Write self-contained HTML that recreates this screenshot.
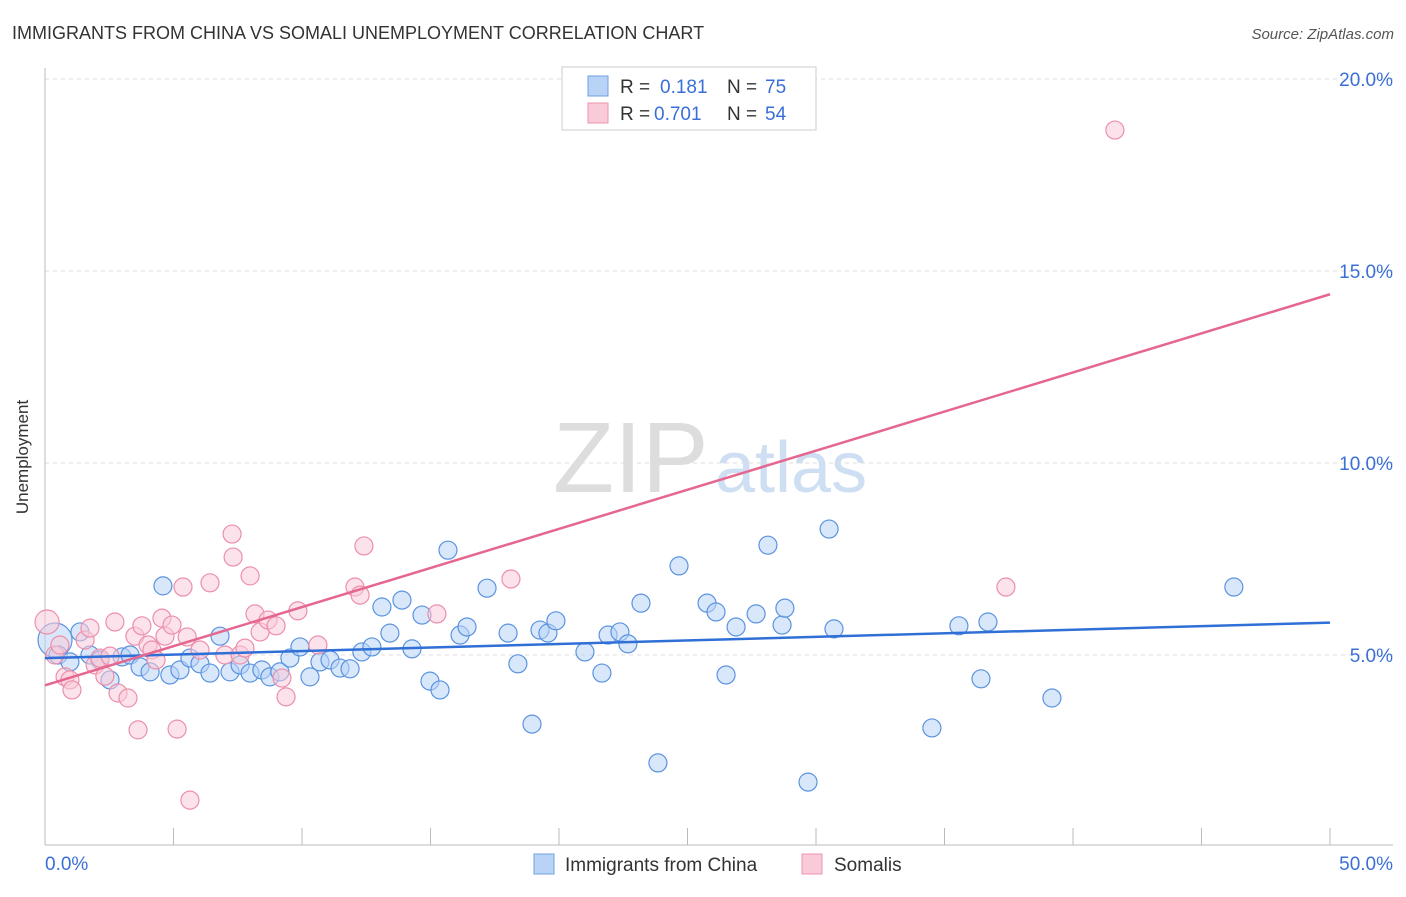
<!DOCTYPE html>
<html><head><meta charset="utf-8"><style>
body{margin:0;background:#fff;font-family:"Liberation Sans",sans-serif}
svg text{font-family:"Liberation Sans",sans-serif}
</style></head><body>
<svg id="c" width="1406" height="892" xmlns="http://www.w3.org/2000/svg">
<text x="12" y="39" font-size="18" fill="#333">IMMIGRANTS FROM CHINA VS SOMALI UNEMPLOYMENT CORRELATION CHART</text>
<text x="1394" y="39" font-size="15" fill="#555" text-anchor="end" font-style="italic">Source: ZipAtlas.com</text>
<text x="28" y="457" font-size="17" fill="#333" text-anchor="middle" transform="rotate(-90 28 457)">Unemployment</text>
<g><text x="553" y="492" font-size="100" fill="#ddd" font-family="Liberation Serif,serif">ZIP</text><text x="715" y="492" font-size="72" fill="#cfdff3">atlas</text></g>
<g id="grid"></g><g id="pts"></g><g id="lines"></g>
<g>
<rect x="562" y="67" width="254" height="63" fill="#fff" stroke="#ccc"/>
<rect x="588" y="76" width="20" height="20" fill="#b8d3f5" stroke="#6fa0e3"/>
<text x="620" y="93" font-size="19" fill="#333">R =</text><text x="660" y="93" font-size="19" fill="#3a6fd8">0.181</text>
<text x="727" y="93" font-size="19" fill="#333">N =</text><text x="765" y="93" font-size="19" fill="#3a6fd8">75</text>
<rect x="588" y="103" width="20" height="20" fill="#f9cbd8" stroke="#ee93ad"/>
<text x="620" y="120" font-size="19" fill="#333">R =</text><text x="654" y="120" font-size="19" fill="#3a6fd8">0.701</text>
<text x="727" y="120" font-size="19" fill="#333">N =</text><text x="765" y="120" font-size="19" fill="#3a6fd8">54</text>
</g>
<g>
<rect x="534" y="854" width="20" height="20" fill="#b8d3f5" stroke="#6fa0e3"/>
<text x="565" y="871" font-size="19" fill="#333">Immigrants from China</text>
<rect x="802" y="854" width="20" height="20" fill="#f9cbd8" stroke="#ee93ad"/>
<text x="834" y="871" font-size="19" fill="#333">Somalis</text>
</g>
</svg>
<script>
const yTicks=[5,10,15,20];
const xTickLabels=["0.0%","50.0%"];
const chinaX=[0.39,0.51,0.97,1.36,1.75,2.14,2.53,3.0,3.31,3.7,4.09,4.59,4.86,5.25,5.64,6.03,6.42,6.81,7.2,7.59,7.98,8.44,8.75,9.14,9.53,9.92,10.31,10.7,11.09,11.48,11.87,12.33,12.72,13.11,13.42,13.89,14.28,14.67,14.98,15.37,15.68,16.15,16.42,17.2,18.02,18.4,18.95,19.26,19.57,19.88,21.01,21.67,21.91,22.37,22.68,23.19,23.85,24.67,25.76,26.11,26.5,26.89,27.67,28.13,28.68,28.79,29.69,30.51,30.7,34.51,35.56,36.42,36.69,39.18,46.26];
const chinaY=[5.39,5.0,4.82,5.6,5.0,4.87,4.35,4.95,5.0,4.69,4.56,6.8,4.48,4.61,4.92,4.77,4.53,5.49,4.56,4.74,4.53,4.61,4.43,4.56,4.92,5.21,4.43,4.82,4.87,4.66,4.64,5.08,5.21,6.25,5.57,6.43,5.16,6.04,4.32,4.09,7.73,5.52,5.73,6.74,5.57,4.77,3.2,5.65,5.57,5.89,5.08,4.53,5.52,5.6,5.29,6.35,2.19,7.32,6.35,6.12,4.48,5.73,6.07,7.86,5.78,6.22,1.69,8.28,5.68,3.1,5.76,4.38,5.86,3.88,6.77];
const somaliX=[0.08,0.39,0.58,0.78,0.97,1.05,1.56,1.75,1.95,2.14,2.33,2.53,2.72,2.84,3.23,3.5,3.62,3.77,4.01,4.16,4.32,4.55,4.67,4.94,5.14,5.37,5.53,5.64,6.03,6.42,7.0,7.28,7.32,7.59,7.78,7.98,8.17,8.37,8.68,8.99,9.22,9.38,9.84,10.62,12.06,12.26,12.41,15.25,18.13,37.39,41.63];
const somaliY=[5.86,5.0,5.26,4.43,4.35,4.09,5.39,5.7,4.74,4.92,4.45,4.97,5.86,4.01,3.88,5.49,3.05,5.76,5.26,5.13,4.87,5.96,5.49,5.78,3.07,6.77,5.47,1.22,5.13,6.88,5.0,8.15,7.55,5.0,5.18,7.06,6.07,5.6,5.91,5.76,4.4,3.91,6.15,5.26,6.77,6.56,7.84,6.07,6.98,6.77,18.67];
const NS="http://www.w3.org/2000/svg";
const X=v=>45+v/50*1285, Y=v=>847-v*38.4;
function mk(t,a,p){const e=document.createElementNS(NS,t);for(const k in a)e.setAttribute(k,a[k]);document.getElementById(p).appendChild(e);return e;}
const svg=document.getElementById('c');
yTicks.forEach(t=>{
 const l=mk('line',{x1:45,x2:1393,y1:Y(t),y2:Y(t),stroke:'#ddd','stroke-dasharray':'4,4'},'grid');
 
 
 const tx=mk('text',{x:1393,y:Y(t)+7,'font-size':19,fill:'#3a6fd8','text-anchor':'end'},'grid');
 tx.textContent=t.toFixed(1)+'%';
 
 
});
mk('line',{x1:45,x2:45,y1:68,y2:845,stroke:'#bbb'},'grid');
mk('line',{x1:45,x2:1393,y1:845,y2:845,stroke:'#bbb'},'grid');
for(let i=0;i<=10;i++){mk('line',{x1:X(i*5),x2:X(i*5),y1:828,y2:845,stroke:'#bbb'},'grid');}
xTickLabels.forEach((s,i)=>{
 const tx=mk('text',{x:i?1393:45,y:870,'font-size':19,fill:'#3a6fd8','text-anchor':i?'end':'start'},'grid');
 tx.textContent=s;
 
 
});
function series(xs,ys,fill,stroke,name,lc){
 xs.forEach((x,i)=>{
  const c=mk('circle',{cx:X(x),cy:Y(ys[i]),r:i==0?(name=='china-point'?17:12):9,fill:fill,'fill-opacity':0.55,stroke:stroke,'stroke-width':1.2},'pts');
  
  
 });
 const n=xs.length,mx=xs.reduce((a,b)=>a+b)/n,my=ys.reduce((a,b)=>a+b)/n;
 let sxy=0,sxx=0;xs.forEach((x,i)=>{sxy+=(x-mx)*(ys[i]-my);sxx+=(x-mx)**2;});
 const b=sxy/sxx,a=my-b*mx;
 const l=mk('line',{x1:X(0),y1:Y(a),x2:X(50),y2:Y(a+b*50),stroke:lc,'stroke-width':2.5},'lines');
 
 
}
series(chinaX,chinaY,'#b8d3f5','#5b93e0','china-point','#2f6fd6');
series(somaliX,somaliY,'#f9cbd8','#ec8fab','somali-point','#e5678f');
</script>
</body></html>
